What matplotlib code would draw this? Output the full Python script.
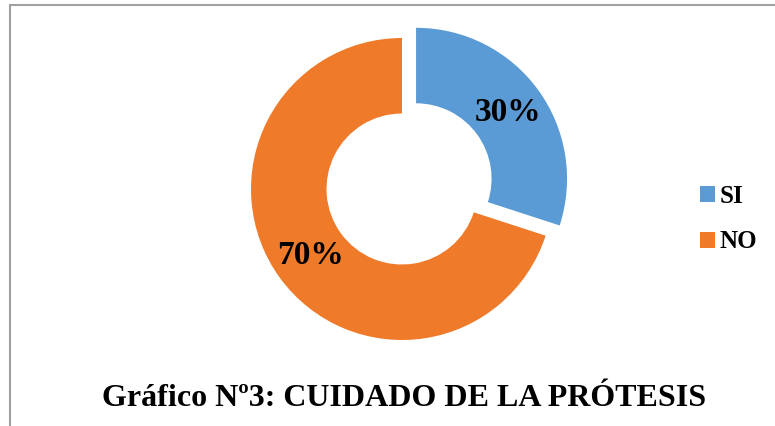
import matplotlib
matplotlib.use("Agg")
import matplotlib.pyplot as plt
from matplotlib.lines import Line2D

# datos
etiquetas = ["SI", "NO"]
valores = [30, 70]
colores = ["#5b9bd5", "#ee7a2a"]
titulo = "Gráfico Nº3: CUIDADO DE LA PRÓTESIS"

plt.rcParams["font.family"] = ["Liberation Serif", "DejaVu Serif"]

W, H = 775, 426
fig = plt.figure(figsize=(W / 100, H / 100), dpi=100)

# ejes del anillo: centro en (402, 189) px, radio 151 px
R = 151
cx, cy = 402, 189
half = 1.2 * R
ax = fig.add_axes([(cx - half) / W, (H - cy - half) / H, 2 * half / W, 2 * half / H])

wedges, texts, autotexts = ax.pie(
    valores,
    colors=colores,
    startangle=90,
    counterclock=False,
    explode=[0.115, 0],
    radius=1,
    autopct="%d%%",
    pctdistance=0.75,
    wedgeprops=dict(width=0.5, edgecolor="none"),
    textprops=dict(fontsize=24, fontweight="bold", color="black"),
)
# pie pone sus propios limites, los fijamos despues
ax.set_xlim(-1.2, 1.2)
ax.set_ylim(-1.2, 1.2)
ax.set_aspect("equal")
ax.axis("off")

# leyenda a la derecha
fig.legend(wedges, etiquetas, loc="upper left",
           bbox_to_anchor=(700 / W, 1 - 185 / H),
           borderaxespad=0, borderpad=0,
           frameon=False, handlelength=0.6, handleheight=0.6,
           handletextpad=0.2, labelspacing=0.9,
           prop=dict(size=18, weight="bold"))

# titulo abajo
fig.text(0.521, 1 - 398 / H, titulo, ha="center", va="center",
         fontsize=23, fontweight="bold")

# marco gris (solo arriba e izquierda visibles)
fig.add_artist(Line2D([10 / W, 1], [1 - 5 / H, 1 - 5 / H], color="#a0a0a0", lw=1.5))
fig.add_artist(Line2D([10 / W, 10 / W], [0, 1 - 5 / H], color="#a0a0a0", lw=1.5))

fig.savefig("out.png", dpi=100)
